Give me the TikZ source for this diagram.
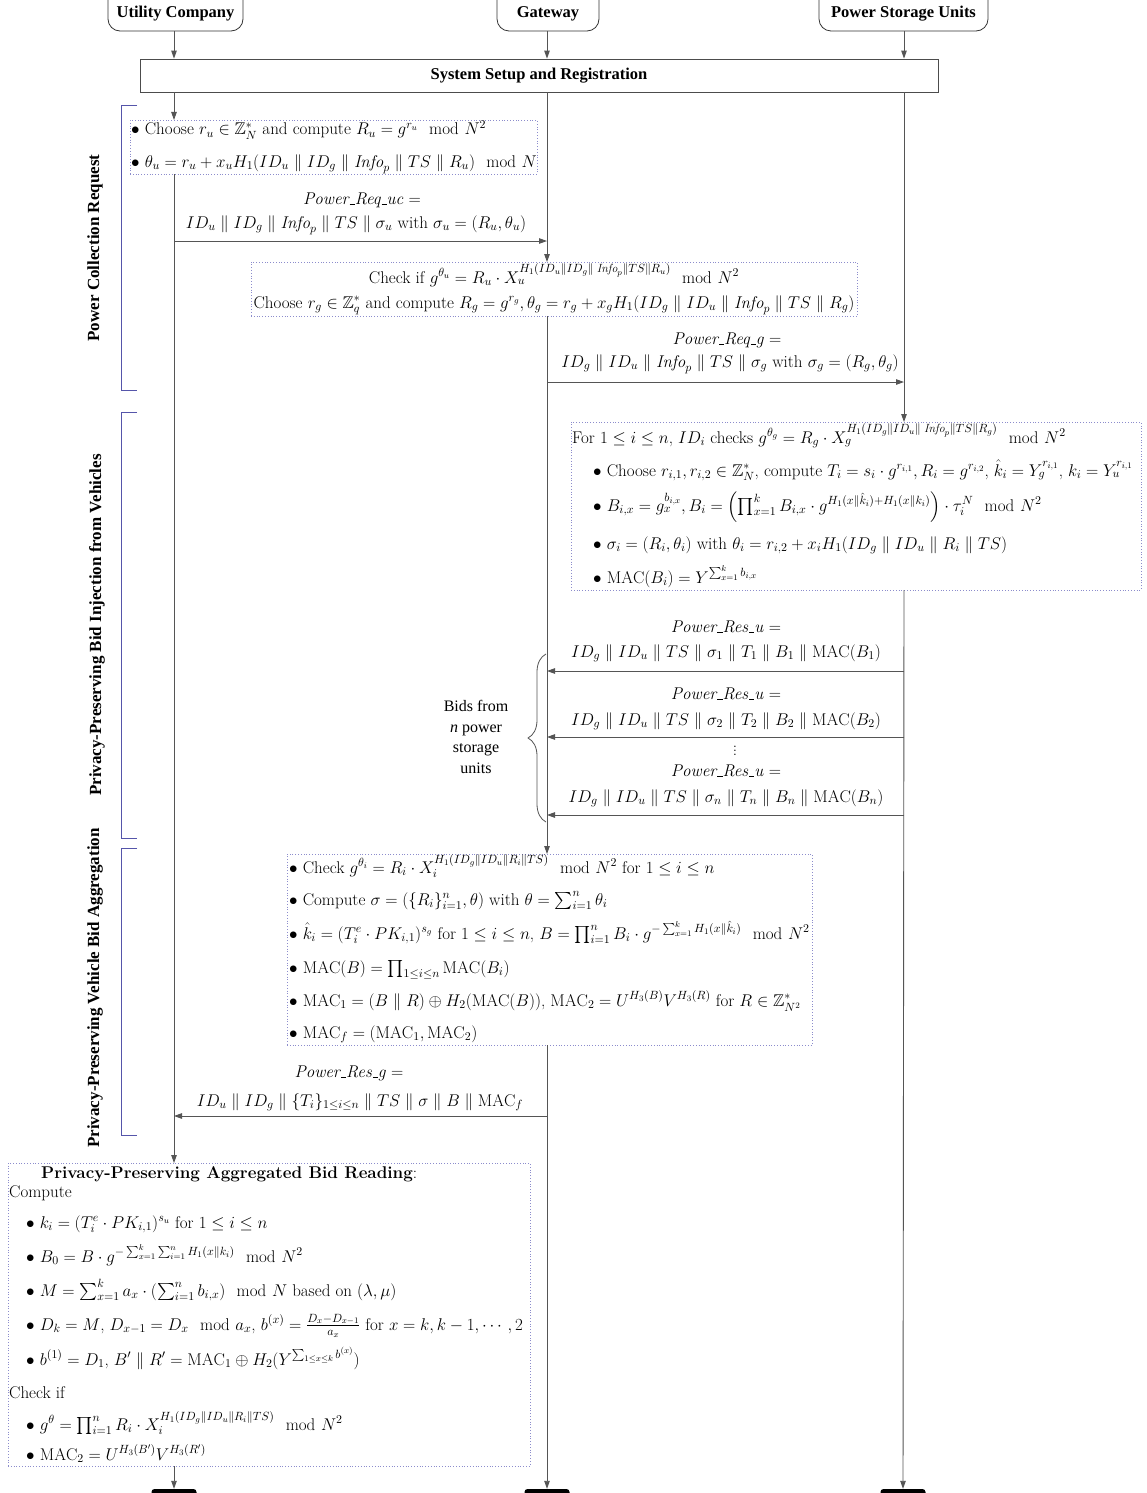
\RequirePackage{fix-cm}
\documentclass[tikz,border=0pt]{standalone}
\usepackage{amsmath,amssymb}
\usepackage{fontspec}
\newfontfamily\tnr{Liberation Serif}
\usetikzlibrary{arrows.meta,decorations.pathreplacing}
\definecolor{lifec}{HTML}{555555}
\definecolor{dotc}{HTML}{8C8CCC}
\definecolor{brc}{HTML}{5555AA}
\newcommand\mfs{\fontsize{17}{20}\selectfont}
\newcommand\bul{$\bullet$\ }
\newcommand\Inf{\mathit{Info}_p}
\newcommand\usc{\leavevmode\kern.06em\vbox{\hrule width .3em}}
\newcommand\pmsg[1]{\textit{#1}\ $=$}
\begin{document}
\begin{tikzpicture}[x=1pt,y=-1pt,
  life/.style={draw=lifec, line width=0.9pt},
  lifea/.style={life, -{Triangle[length=8pt,width=5.5pt]}},
  dotbox/.style={draw=dotc, dotted, line width=0.8pt, fill=white, inner sep=0pt, outer sep=0pt},
  actor/.style={draw=black!80, rounded corners=12pt, line width=0.8pt, inner sep=0pt},
  actortext/.style={font=\tnr\bfseries\fontsize{16.5}{18}\selectfont, inner sep=0pt},
  mt/.style={font=\mfs, inner sep=0pt, anchor=base west},
  msg/.style={font=\mfs, inner sep=0pt, anchor=base},
  brk/.style={draw=brc, line width=1pt},
  side/.style={font=\tnr\bfseries\fontsize{17}{18}\selectfont, rotate=90, inner sep=0pt},
  endbar/.style={fill=black, rounded corners=3pt, inner sep=0pt}]
\useasboundingbox (0,0) rectangle (1146,1493);
\fill[white] (0,0) rectangle (1146,1493);
% lifeline x positions
\coordinate (xu) at (174,0);
\coordinate (xg) at (547,0);
\coordinate (xp) at (904,0);
% actors
\node[actor, minimum width=135pt, minimum height=44pt] (uc) at (175.5,9) {};
\node[actor, minimum width=102pt, minimum height=44pt] (gw) at (548,9) {};
\node[actor, minimum width=169pt, minimum height=44pt] (ps) at (903.5,9) {};
\node[actortext] (uct) at (175.5,14) {Utility Company};
\node[actortext] (gwt) at (548,14) {Gateway};
\node[actortext] (pst) at (903.5,14) {Power Storage Units};
\node[draw=black!70, line width=0.8pt, minimum width=798pt, minimum height=33pt, inner sep=0pt,
  font=\tnr\bfseries\fontsize{16.5}{18}\selectfont] (setup) at (539,75.5) {System Setup and Registration};
\draw[lifea] (uc.south -| xu) -- (setup.north -| xu);
\draw[lifea] (gw.south -| xg) -- (setup.north -| xg);
\draw[lifea] (ps.south -| xp) -- (setup.north -| xp);
% end bars
\node[endbar, minimum width=45pt, minimum height=12pt] (eu) at (174,1495) {};
\node[endbar, minimum width=45pt, minimum height=12pt] (eg) at (547,1495) {};
\node[endbar, minimum width=45pt, minimum height=12pt] (ep) at (903,1495) {};
% boxes
\node[dotbox, minimum width=407pt, minimum height=54pt] (b1) at (333.5,147) {};
\node[dotbox, minimum width=606pt, minimum height=54pt] (b2) at (554,289) {};
\node[dotbox, minimum width=570pt, minimum height=168pt] (b3) at (856,506) {};
\node[dotbox, minimum width=525pt, minimum height=191pt] (b4) at (549.5,949.5) {};
\node[dotbox, minimum width=522pt, minimum height=303pt] (b5) at (269,1314.5) {};
% lifelines
\draw[lifea] (setup.south -| xu) -- (b1.north -| xu);
\draw[lifea] (b1.south -| xu) -- (b5.north -| xu);
\draw[lifea] (b5.south -| xu) -- (eu.north);
\draw[lifea] (setup.south -| xg) -- (b2.north -| xg);
\draw[lifea] (b2.south -| xg) -- (b4.north -| xg);
\draw[lifea] (b4.south -| xg) -- (eg.north);
\draw[lifea] (setup.south -| xp) -- (b3.north -| xp);
\draw[lifea] (b3.south -| xp) -- (ep.north);
% message rows
\coordinate (m1) at (0,241);
\coordinate (m2) at (0,382);
\coordinate (m3) at (0,671);
\coordinate (m4) at (0,737);
\coordinate (m5) at (0,815);
\coordinate (m6) at (0,1116);
\draw[lifea] (m1 -| xu) -- (m1 -| xg);
\draw[lifea] (m2 -| xg) -- (m2 -| xp);
\draw[lifea] (m3 -| xp) -- (m3 -| xg);
\draw[lifea] (m4 -| xp) -- (m4 -| xg);
\draw[lifea] (m5 -| xp) -- (m5 -| xg);
\draw[lifea] (m6 -| xg) -- (m6 -| xu);
% box 1
\node[mt] (t11) at (131,135) {\bul Choose $r_u \in \mathbb{Z}_N^*$ and compute $R_u = g^{r_u} \mod N^2$};
\node[mt] (t12) at (131,167) {\bul $\theta_u = r_u + x_u H_1(ID_u \parallel ID_g \parallel \Inf \parallel TS \parallel R_u) \mod N$};
% message 1
\node[msg] (p1a) at (362,204) {\pmsg{Power\usc Req\usc uc}};
\node[msg] (p1b) at (356,228) {$ID_u \parallel ID_g \parallel \Inf \parallel TS \parallel \sigma_u$ with $\sigma_u = (R_u, \theta_u)$};
% box 2
\node[msg] (t21) at (554,283) {Check if $g^{\theta_u} = R_u \cdot X_u^{H_1(ID_u \parallel ID_g \parallel\; \Inf \parallel TS \parallel R_u)} \mod N^2$};
\node[msg] (t22) at (554,308) {Choose $r_g \in \mathbb{Z}_q^*$ and compute $R_g = g^{r_g}, \theta_g = r_g + x_g H_1(ID_g \parallel ID_u \parallel \Inf \parallel TS \parallel R_g)$};
% message 2
\node[msg] (p2a) at (727,344) {\pmsg{Power\usc Req\usc g}};
\node[msg] (p2b) at (730,367) {$ID_g \parallel ID_u \parallel \Inf \parallel TS \parallel \sigma_g$ with $\sigma_g = (R_g, \theta_g)$};
% box 3
\node[mt] (t30) at (572,443) {For $1 \le i \le n$, $ID_i$ checks $g^{\theta_g} = R_g \cdot X_g^{H_1(ID_g \parallel ID_u \parallel\; \Inf \parallel TS \parallel R_g)} \mod N^2$};
\node[mt] (t31) at (593,476) {\bul Choose $r_{i,1}, r_{i,2} \in \mathbb{Z}_N^*$, compute $T_i = s_i \cdot g^{r_{i,1}}, R_i = g^{r_{i,2}}$, $\hat{k}_i = Y_g^{r_{i,1}}$, $k_i = Y_u^{r_{i,1}}$};
\node[mt] (t32) at (593,511) {\bul $B_{i,x} = g_x^{b_{i,x}}, B_i = \left(\prod_{x=1}^k B_{i,x} \cdot g^{H_1(x\parallel\hat{k}_i)+H_1(x\parallel k_i)}\right) \cdot \tau_i^N \mod N^2$};
\node[mt] (t33) at (593,549) {\bul $\sigma_i = (R_i, \theta_i)$ with $\theta_i = r_{i,2} + x_i H_1(ID_g \parallel ID_u \parallel R_i \parallel TS)$};
\node[mt] (t34) at (593,583) {\bul $\mathrm{MAC}(B_i) = Y^{\sum_{x=1}^k b_{i,x}}$};
% bids messages
\node[msg] (p3a) at (726,632) {\pmsg{Power\usc Res\usc u}};
\node[msg] (p3b) at (726,657) {$ID_g \parallel ID_u \parallel TS \parallel \sigma_1 \parallel T_1 \parallel B_1 \parallel \mathrm{MAC}(B_1)$};
\node[msg] (p4a) at (726,699) {\pmsg{Power\usc Res\usc u}};
\node[msg] (p4b) at (726,725) {$ID_g \parallel ID_u \parallel TS \parallel \sigma_2 \parallel T_2 \parallel B_2 \parallel \mathrm{MAC}(B_2)$};
\node[msg] (vd) at (735,755) {$\vdots$};
\node[msg] (p5a) at (726,776) {\pmsg{Power\usc Res\usc u}};
\node[msg] (p5b) at (726,802) {$ID_g \parallel ID_u \parallel TS \parallel \sigma_n \parallel T_n \parallel B_n \parallel \mathrm{MAC}(B_n)$};
\draw[draw=lifec, line width=0.8pt, decorate, decoration={brace, amplitude=18pt, aspect=0.5}] (546,822) -- (546,654);
\node[font=\tnr\fontsize{16}{20.5}\selectfont, align=center, inner sep=0pt] (bids) at (476,737) {Bids from\\\textit{n} power\\storage\\units};
% box 4
\node[mt] (t41) at (289,873) {\bul Check $g^{\theta_i} = R_i \cdot X_i^{H_1(ID_g\parallel ID_u\parallel R_i\parallel TS)} \mod N^2$ for $1\le i\le n$};
\node[mt] (t42) at (289,905) {\bul Compute $\sigma = (\{R_i\}_{i=1}^n, \theta)$ with $\theta = \sum_{i=1}^n \theta_i$};
\node[mt] (t43) at (289,939) {\bul $\hat{k}_i = (T_i^e \cdot PK_{i,1})^{s_g}$ for $1 \le i \le n$, $B = \prod_{i=1}^n B_i \cdot g^{-\sum_{x=1}^k H_1(x\parallel\hat{k}_i)} \mod N^2$};
\node[mt] (t44) at (289,973) {\bul $\mathrm{MAC}(B) = \prod_{1\le i\le n} \mathrm{MAC}(B_i)$};
\node[mt] (t45) at (289,1006) {\bul $\mathrm{MAC}_1 = (B \parallel R) \oplus H_2(\mathrm{MAC}(B))$, $\mathrm{MAC}_2 = U^{H_3(B)}V^{H_3(R)}$ for $R \in \mathbb{Z}_{N^2}^*$};
\node[mt] (t46) at (289,1038) {\bul $\mathrm{MAC}_f = (\mathrm{MAC}_1, \mathrm{MAC}_2)$};
% message 6
\node[msg] (p6a) at (349,1077) {\pmsg{Power\usc Res\usc g}};
\node[msg] (p6b) at (360,1106) {$ID_u \parallel ID_g \parallel \{T_i\}_{1\le i\le n} \parallel TS \parallel \sigma \parallel B \parallel \mathrm{MAC}_f$};
% box 5
\node[mt] (t50) at (41,1178) {\textbf{Privacy-Preserving Aggregated Bid Reading}:};
\node[mt] (t51) at (9,1197) {Compute};
\node[mt] (t52) at (26,1228) {\bul $k_i = (T_i^e \cdot PK_{i,1})^{s_u}$ for $1 \le i \le n$};
\node[mt] (t53) at (26,1262) {\bul $B_0 = B \cdot g^{-\sum_{x=1}^k \sum_{i=1}^n H_1(x\parallel k_i)} \mod N^2$};
\node[mt] (t54) at (26,1296) {\bul $M = \sum_{x=1}^k a_x \cdot (\sum_{i=1}^n b_{i,x}) \mod N$ based on $(\lambda, \mu)$};
\node[mt] (t55) at (26,1330) {\bul $D_k = M$, $D_{x-1} = D_x \mod a_x$, $b^{(x)} = \frac{D_x - D_{x-1}}{a_x}$ for $x = k, k-1, \cdots, 2$};
\node[mt] (t56) at (26,1365) {\bul $b^{(1)} = D_1$, $B' \parallel R' = \mathrm{MAC}_1 \oplus H_2(Y^{\sum_{1\le x\le k} b^{(x)}})$};
\node[mt] (t57) at (9,1398) {Check if};
\node[mt] (t58) at (26,1430) {\bul $g^\theta = \prod_{i=1}^n R_i \cdot X_i^{H_1(ID_g\parallel ID_u\parallel R_i\parallel TS)} \mod N^2$};
\node[mt] (t59) at (26,1460) {\bul $\mathrm{MAC}_2 = U^{H_3(B')}V^{H_3(R')}$};
% phase brackets
\draw[brk] (137,106) -- (121,106) -- (121,390) -- (137,390);
\draw[brk] (137,412) -- (121,412) -- (121,838) -- (137,838);
\draw[brk] (137,848) -- (121,848) -- (121,1135) -- (137,1135);
\node[side] (l1) at (95,248) {Power Collection Request};
\node[side] (l2) at (97,625) {Privacy-Preserving Bid Injection from Vehicles};
\node[side] (l3) at (95,988) {Privacy-Preserving Vehicle Bid Aggregation};
\end{tikzpicture}
\end{document}
